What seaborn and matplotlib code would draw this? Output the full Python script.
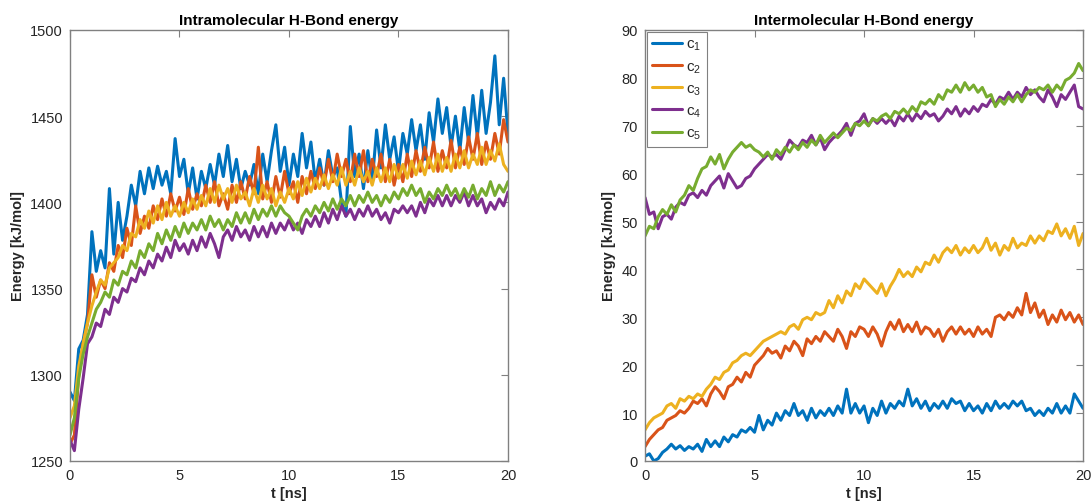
import numpy as np
import seaborn as sns
import matplotlib
matplotlib.use("Agg")
import matplotlib.pyplot as plt

# time axis, 0.2 ns steps
t = np.linspace(0, 20, 101)

# intramolecular H-bond energy [kJ/mol]
intra_c1 = [1290, 1285, 1315, 1320, 1335, 1383, 1360, 1372, 1362, 1408,
            1370, 1400, 1378, 1392, 1410, 1398, 1418, 1405, 1420, 1408,
            1421, 1410, 1418, 1405, 1437, 1415, 1425, 1405, 1420, 1402,
            1418, 1408, 1422, 1410, 1428, 1415, 1433, 1412, 1425, 1408,
            1418, 1410, 1422, 1405, 1428, 1412, 1430, 1445, 1418, 1432,
            1410, 1428, 1415, 1440, 1420, 1435, 1412, 1425, 1410, 1430,
            1415, 1420, 1400, 1392, 1444, 1415, 1428, 1408, 1430, 1412,
            1442, 1420, 1445, 1425, 1438, 1418, 1440, 1428, 1448, 1430,
            1445, 1425, 1452, 1435, 1460, 1440, 1455, 1432, 1450, 1430,
            1455, 1435, 1462, 1438, 1465, 1440, 1458, 1485, 1445, 1472,
            1440]
intra_c2 = [1260, 1265, 1300, 1318, 1330, 1358, 1345, 1355, 1350, 1365,
            1360, 1375, 1368, 1385, 1375, 1398, 1382, 1392, 1385, 1398,
            1390, 1402, 1392, 1405, 1395, 1403, 1393, 1408, 1396, 1405,
            1398, 1410, 1400, 1412, 1398, 1405, 1396, 1410, 1400, 1412,
            1402, 1415, 1405, 1432, 1402, 1412, 1400, 1415, 1403, 1418,
            1405, 1412, 1400, 1415, 1405, 1418, 1408, 1420, 1410, 1425,
            1412, 1428, 1415, 1425, 1412, 1428, 1415, 1430, 1412, 1425,
            1415, 1428, 1412, 1425, 1410, 1422, 1412, 1428, 1415, 1430,
            1418, 1432, 1420, 1435, 1418, 1430, 1420, 1436, 1420, 1432,
            1422, 1438, 1425, 1440, 1422, 1435, 1425, 1440, 1428, 1448,
            1435]
intra_c3 = [1275, 1282, 1305, 1318, 1330, 1340, 1348, 1355, 1352, 1362,
            1365, 1368, 1375, 1372, 1382, 1380, 1390, 1385, 1395, 1388,
            1398, 1390, 1400, 1392, 1398, 1392, 1400, 1394, 1402, 1396,
            1404, 1398, 1408, 1400, 1410, 1402, 1408, 1400, 1410, 1402,
            1406, 1398, 1408, 1400, 1410, 1402, 1408, 1398, 1406, 1400,
            1408, 1402, 1412, 1404, 1414, 1406, 1414, 1408, 1416, 1408,
            1416, 1410, 1420, 1410, 1418, 1410, 1420, 1412, 1418, 1410,
            1420, 1412, 1420, 1412, 1422, 1414, 1422, 1414, 1424, 1416,
            1424, 1416, 1426, 1418, 1428, 1418, 1426, 1418, 1428, 1420,
            1430, 1420, 1428, 1422, 1432, 1422, 1430, 1424, 1434, 1422,
            1418]
intra_c4 = [1262, 1256, 1280, 1298, 1318, 1322, 1330, 1328, 1338, 1335,
            1345, 1342, 1350, 1348, 1356, 1354, 1362, 1358, 1366, 1362,
            1370, 1366, 1374, 1368, 1378, 1372, 1376, 1370, 1378, 1372,
            1380, 1374, 1382, 1376, 1368, 1380, 1384, 1378, 1386, 1380,
            1384, 1378, 1386, 1380, 1386, 1380, 1388, 1382, 1388, 1384,
            1390, 1384, 1388, 1382, 1390, 1386, 1392, 1386, 1394, 1388,
            1396, 1390, 1398, 1392, 1396, 1390, 1396, 1392, 1398, 1392,
            1396, 1390, 1394, 1388, 1396, 1394, 1398, 1394, 1398, 1392,
            1400, 1394, 1402, 1398, 1404, 1398, 1404, 1398, 1404, 1400,
            1406, 1398, 1404, 1398, 1402, 1394, 1400, 1396, 1402, 1398,
            1406]
intra_c5 = [1265, 1275, 1298, 1312, 1322, 1330, 1338, 1342, 1348, 1345,
            1355, 1352, 1360, 1358, 1366, 1362, 1372, 1368, 1376, 1372,
            1382, 1376, 1384, 1378, 1386, 1380, 1388, 1382, 1388, 1384,
            1390, 1384, 1392, 1386, 1390, 1384, 1390, 1386, 1394, 1388,
            1394, 1388, 1396, 1390, 1396, 1392, 1398, 1392, 1398, 1394,
            1392, 1388, 1384, 1392, 1396, 1392, 1398, 1394, 1400, 1395,
            1402, 1396, 1402, 1398, 1404, 1398, 1404, 1400, 1406, 1400,
            1404, 1398, 1404, 1400, 1406, 1402, 1408, 1404, 1410, 1404,
            1408, 1400, 1406, 1402, 1408, 1404, 1410, 1404, 1408, 1402,
            1408, 1403, 1410, 1402, 1408, 1404, 1412, 1404, 1410, 1406,
            1412]

# intermolecular H-bond energy [kJ/mol]
inter_c1 = [1.0, 1.5, 0.0, 0.5, 1.8, 2.5, 3.5, 2.5, 3.2, 2.2,
            3.0, 2.5, 3.5, 2.0, 4.5, 3.0, 4.2, 3.0, 5.0, 4.0,
            5.5, 5.0, 6.5, 6.0, 7.0, 6.0, 9.5, 6.5, 8.5, 7.5,
            10.0, 8.5, 10.5, 9.5, 12.0, 9.5, 10.5, 8.5, 11.0, 9.0,
            10.5, 9.5, 11.0, 9.5, 11.5, 10.0, 15.0, 10.0, 12.0, 10.0,
            11.5, 8.0, 11.0, 9.5, 12.5, 10.0, 12.0, 11.0, 12.5, 11.5,
            15.0, 11.5, 13.0, 11.0, 12.5, 10.5, 12.0, 11.0, 12.5, 11.0,
            13.0, 12.0, 12.5, 10.5, 12.0, 10.5, 11.5, 10.0, 12.0, 10.5,
            12.5, 11.0, 12.0, 11.0, 12.5, 11.5, 12.5, 10.5, 11.0, 9.5,
            10.5, 9.5, 11.0, 10.0, 12.0, 10.0, 11.5, 10.0, 14.0, 12.5,
            11.0]
inter_c2 = [3.0, 4.5, 5.5, 6.5, 7.0, 8.5, 9.0, 9.5, 10.5, 10.0,
            11.0, 12.5, 12.0, 13.0, 11.5, 14.0, 15.5, 14.5, 13.0, 15.5,
            16.0, 17.5, 16.5, 18.5, 17.5, 20.0, 21.0, 22.0, 23.5, 22.5,
            23.0, 21.5, 24.0, 23.0, 25.0, 24.0, 22.0, 25.5, 24.5, 26.0,
            25.0, 27.0, 26.0, 25.0, 27.5, 26.0, 23.5, 27.0, 26.0, 28.0,
            27.5, 26.0, 28.0, 26.5, 24.0, 27.0, 29.0, 27.5, 29.5, 27.0,
            28.5, 27.0, 29.0, 26.5, 28.0, 27.5, 26.0, 27.5, 25.0, 27.0,
            28.0, 26.5, 28.0, 26.5, 27.5, 26.0, 28.0, 26.5, 27.5, 26.0,
            30.0, 30.5, 29.5, 31.0, 30.0, 32.0, 30.5, 35.0, 31.0, 33.0,
            30.0, 31.5, 28.5, 30.5, 29.0, 31.5, 29.5, 31.0, 29.0, 30.5,
            28.5]
inter_c3 = [6.5, 8.0, 9.0, 9.5, 10.0, 11.5, 12.0, 11.0, 13.0, 12.5,
            13.5, 13.0, 14.0, 13.5, 15.0, 16.0, 17.5, 17.0, 18.5, 19.0,
            20.5, 21.0, 22.0, 22.5, 22.0, 23.0, 24.0, 25.0, 25.5, 26.0,
            26.5, 27.0, 26.5, 28.0, 28.5, 27.5, 29.5, 30.0, 29.5, 31.0,
            30.5, 31.0, 33.5, 32.0, 34.5, 33.0, 35.5, 34.5, 37.0, 36.0,
            38.0, 37.0, 36.0, 35.0, 37.0, 34.5, 36.5, 38.0, 40.0, 38.5,
            39.5, 38.5, 40.5, 39.5, 41.5, 41.0, 43.0, 41.5, 43.5, 44.5,
            43.5, 45.0, 43.0, 44.5, 43.5, 45.0, 43.5, 44.5, 46.5, 44.0,
            45.5, 43.0, 45.0, 44.0, 46.5, 44.5, 45.5, 45.0, 47.0, 45.5,
            47.0, 46.0, 48.0, 47.5, 49.5, 47.0, 48.5, 46.5, 49.0, 45.0,
            47.5]
inter_c4 = [55.0, 51.5, 52.0, 48.5, 51.0, 51.5, 50.5, 53.0, 54.0, 53.5,
            55.5, 56.0, 55.0, 56.5, 55.5, 57.5, 58.5, 59.5, 57.0, 60.0,
            58.5, 57.0, 57.5, 59.0, 59.5, 61.0, 62.0, 63.0, 64.0, 63.5,
            64.0, 63.0, 65.0, 67.0, 66.0, 65.5, 67.0, 66.5, 68.0, 66.0,
            67.5, 65.0, 66.5, 67.5, 68.0, 69.0, 70.5, 68.0, 70.5, 71.0,
            72.5, 70.0, 71.5, 70.5, 71.5, 70.5, 71.5, 70.0, 72.0, 71.0,
            72.5, 71.0, 72.5, 71.5, 73.0, 72.0, 72.5, 71.0, 72.0, 73.5,
            72.5, 74.0, 72.0, 73.5, 72.5, 74.0, 73.0, 74.5, 74.0, 75.5,
            74.5, 76.0, 75.5, 77.0, 75.5, 77.0, 76.0, 78.0, 76.5, 77.5,
            76.0, 75.0, 77.5, 76.0, 74.0, 76.5, 75.5, 77.0, 78.5, 74.0,
            73.5]
inter_c5 = [47.0, 49.0, 48.5, 51.0, 52.5, 51.5, 53.5, 52.0, 54.5, 55.5,
            57.5, 56.5, 59.0, 61.0, 61.5, 63.5, 62.0, 64.0, 61.0, 63.0,
            64.5, 65.5, 66.5, 65.5, 66.0, 65.0, 64.5, 63.5, 64.5, 63.0,
            65.0, 64.0, 65.5, 64.5, 66.0, 65.0, 66.5, 65.5, 67.0, 66.0,
            68.0, 66.5, 67.5, 68.5, 67.5, 68.5, 69.5, 69.0, 70.5, 70.0,
            71.0, 70.0, 71.5, 71.0, 72.0, 72.5, 71.5, 73.0, 72.5, 73.5,
            72.5, 74.0, 73.0, 75.0, 74.5, 75.5, 74.5, 76.5, 75.5, 77.5,
            77.0, 78.5, 77.0, 79.0, 77.5, 78.5, 77.0, 78.0, 76.0, 76.5,
            74.0, 75.5, 74.5, 76.0, 75.0, 76.5, 75.0, 76.5, 77.5, 77.0,
            78.0, 77.5, 78.5, 77.0, 78.5, 77.5, 79.5, 80.0, 81.0, 83.0,
            81.5]

labels = ["c$_1$", "c$_2$", "c$_3$", "c$_4$", "c$_5$"]
colors = ["#0072BD", "#D95319", "#EDB120", "#7E2F8E", "#77AC30"]

sns.set_theme(style="white")
plt.rcParams["font.family"] = ["Liberation Sans", "DejaVu Sans"]
plt.rcParams["mathtext.fontset"] = "custom"
plt.rcParams["mathtext.rm"] = "Liberation Sans"
plt.rcParams["mathtext.it"] = "Liberation Sans"

fig = plt.figure(figsize=(10.92, 5.02), dpi=100)
ax1 = fig.add_axes([0.0641, 0.0797, 0.4011, 0.8586])
ax2 = fig.add_axes([0.5907, 0.0797, 0.4011, 0.8586])

intra = [intra_c1, intra_c2, intra_c3, intra_c4, intra_c5]
inter = [inter_c1, inter_c2, inter_c3, inter_c4, inter_c5]

for vals, col in zip(intra, colors):
    sns.lineplot(x=t, y=vals, ax=ax1, color=col, linewidth=2.2, legend=False)
for vals, col, lab in zip(inter, colors, labels):
    sns.lineplot(x=t, y=vals, ax=ax2, color=col, linewidth=2.2, label=lab)

for ax, title, ylim, yticks in [
        (ax1, "Intramolecular H-Bond energy", (1250, 1500), np.arange(1250, 1501, 50)),
        (ax2, "Intermolecular H-Bond energy", (0, 90), np.arange(0, 91, 10))]:
    ax.set_xlim(0, 20)
    ax.set_ylim(*ylim)
    ax.set_xticks([0, 5, 10, 15, 20])
    ax.set_yticks(yticks)
    ax.set_title(title, fontsize=11, fontweight="bold", pad=4, color="#000000")
    ax.set_xlabel("t [ns]", fontsize=10.5, fontweight="bold", labelpad=3)
    ax.set_ylabel("Energy [kJ/mol]", fontsize=10.5, fontweight="bold", labelpad=4)
    ax.tick_params(direction="in", length=5, width=0.8, top=True, right=True,
                   labelsize=10.5, colors="#808080", labelcolor="#262626", pad=5)
    for s in ax.spines.values():
        s.set_color("#808080")
        s.set_linewidth(1.0)

leg = ax2.legend(loc="upper left", fontsize=11, frameon=True, fancybox=False,
                 edgecolor="#808080", framealpha=1, borderaxespad=0.1,
                 handlelength=2.0, handletextpad=0.25, labelspacing=0.45,
                 borderpad=0.35)
leg.get_frame().set_linewidth(0.8)

fig.savefig("out.png", dpi=100)
